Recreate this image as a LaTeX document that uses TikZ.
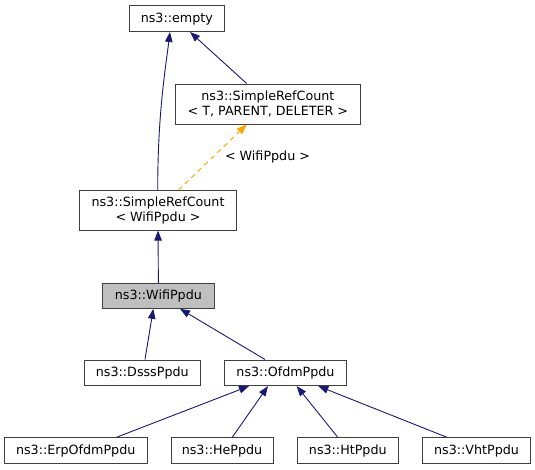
\documentclass[tikz,border=0pt]{standalone}
\usepackage{fontspec}
\setmainfont{DejaVu Sans}
\usetikzlibrary{arrows.meta}
\definecolor{edgeblue}{HTML}{191970}
\definecolor{boxgray}{HTML}{BFBFBF}
\definecolor{dashorange}{HTML}{FFA500}
\tikzset{
  cls/.style={draw=black!75, line width=1pt, fill=white, rectangle, inner sep=0pt,
    minimum height=25.6pt, font=\fontsize{12.7}{14.5}\selectfont, align=center},
  edge/.style={draw=edgeblue, line width=0.9pt, -{Triangle[length=10pt,width=7.5pt,fill=edgeblue]}},
  tmpl/.style={draw=dashorange, line width=0.9pt, dash pattern=on 5pt off 4pt,
    -{Triangle[length=10pt,width=7.5pt,fill=dashorange]}},
  lbl/.style={font=\fontsize{12.7}{14.5}\selectfont, inner sep=0pt}
}
\begin{document}
\begin{tikzpicture}[x=1pt,y=1pt]
\useasboundingbox (0,0) rectangle (535,-469);
\node[cls, minimum width=95pt] (empty) at (176.8,-18.7) {ns3::empty};
\node[cls, minimum width=185.7pt, minimum height=40pt] (srcT) at (267.9,-104) {ns3::SimpleRefCount\\ \textless{} T, PARENT, DELETER \textgreater};
\node[cls, minimum width=157.4pt, minimum height=39.3pt] (srcW) at (158,-210.4) {ns3::SimpleRefCount\\ \textless{} WifiPpdu \textgreater};
\node[cls, fill=boxgray, minimum width=111.3pt, minimum height=25pt] (wifi) at (158.4,-295.8) {ns3::WifiPpdu};
\node[cls, minimum width=116pt] (dsss) at (142.3,-372.8) {ns3::DsssPpdu};
\node[cls, minimum width=122.4pt] (ofdm) at (285.5,-372.8) {ns3::OfdmPpdu};
\node[cls, minimum width=142.7pt] (erp) at (75.7,-450.5) {ns3::ErpOfdmPpdu};
\node[cls, minimum width=102pt] (he) at (222,-450.5) {ns3::HePpdu};
\node[cls, minimum width=101pt] (ht) at (347.8,-450.5) {ns3::HtPpdu};
\node[cls, minimum width=108.4pt] (vht) at (476.5,-450.5) {ns3::VhtPpdu};

\draw[edge] ([xshift=-0.3pt]srcW.north) .. controls +(0,75) and +(-5,-40) .. ([xshift=-6.8pt]empty.south);
\draw[edge] ([xshift=-21.2pt]srcT.north) -- ([xshift=13.2pt]empty.south);
\draw[tmpl] ([xshift=20.3pt]srcW.north) -- ([xshift=-21.2pt]srcT.south);
\node[lbl] (tlabel) at (267.5,-156.7) {\textless{} WifiPpdu \textgreater};
\draw[edge] (wifi.north) -- (srcW.south);
\draw[edge] ([xshift=2.7pt]dsss.north) -- ([xshift=-5.1pt]wifi.south);
\draw[edge] ([xshift=-20.5pt]ofdm.north) -- ([xshift=21.6pt]wifi.south);
\draw[edge] ([xshift=41pt]erp.north) -- ([xshift=-36.5pt]ofdm.south);
\draw[edge] ([xshift=10.3pt]he.north) -- ([xshift=-17.5pt]ofdm.south);
\draw[edge] ([xshift=-10.1pt]ht.north) -- ([xshift=11.2pt]ofdm.south);
\draw[edge] ([xshift=-29.8pt]vht.north) -- ([xshift=32.8pt]ofdm.south);
\end{tikzpicture}
\end{document}
